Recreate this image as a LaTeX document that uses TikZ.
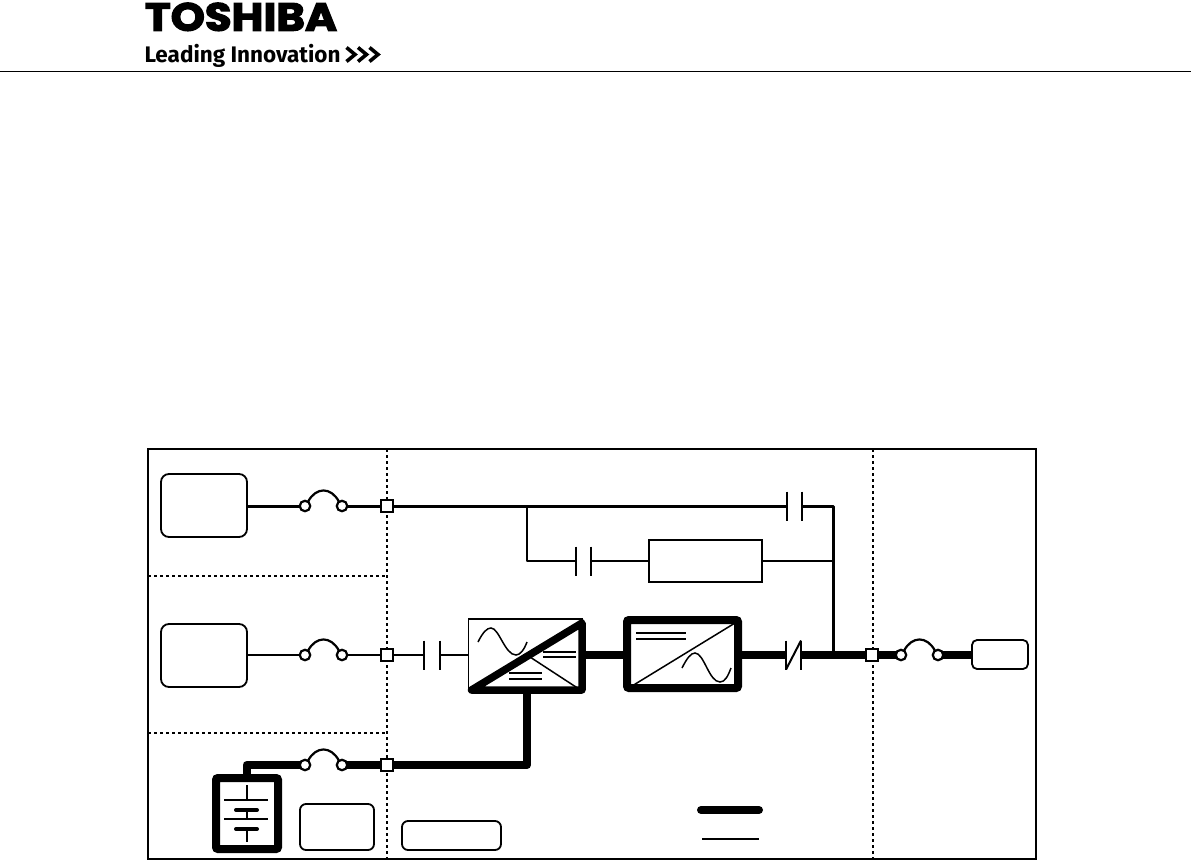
\documentclass[tikz,border=0pt]{standalone}
\usepackage{fontspec}
\setmainfont{Fira Sans}
\newfontfamily\logofont[FakeBold=3]{Poppins Bold}
\newfontfamily\tagfont{Fira Sans Bold}
\tikzset{
  thinline/.style={line width=2.4pt,line join=round},
  busline/.style={line width=3pt,line join=round},
  thickline/.style={line width=8pt,line join=round},
  plate/.style={line width=2pt},
  dashline/.style={line width=2pt,dash pattern=on 3pt off 3pt},
  tbox/.style={draw,fill=white,rounded corners=8pt,line width=1.8pt,inner sep=0pt,outer sep=0pt},
  rbox/.style={draw,fill=white,line width=2pt,inner sep=0pt,outer sep=0pt},
  clear/.style={inner sep=0pt,outer sep=0pt},
  joint/.style={draw,fill=white,line width=1.6pt,minimum size=12pt,inner sep=0pt,outer sep=0pt},
  contact/.style={draw,circle,fill=white,line width=2.2pt,minimum size=10.5pt,inner sep=0pt,outer sep=0pt},
  fusearc/.style={line width=2.2pt},
  wave/.style={line width=1.5pt},
  bar/.style={line width=1.4pt}
}
\newcommand{\fusecurve}[2]{\draw[fusearc] (#1.55) .. controls ([shift={(8pt,15pt)}]#1.55) and ([shift={(-8pt,15pt)}]#2.125) .. (#2.125);}
\begin{document}
\begin{tikzpicture}[x=1pt,y=-1pt]
\useasboundingbox (0,0) rectangle (1191,862);
\fill[white] (0,0) rectangle (1191,862);
% header
\node[clear,anchor=south west] (logoA) at (145,31) {\resizebox{192pt}{28pt}{\logofont TOSHIBA}};
\node[clear,anchor=base west] (logoB) at (144.5,62) {\resizebox{196pt}{!}{\tagfont Leading Innovation}};
\coordinate (hl) at (0,71.5); \coordinate (hr) at (1191,71.5);
\draw[line width=1.2pt] (hl) -- (hr);
\foreach \x in {346.5,358,369.5}
  \draw[line width=3.6pt,miter limit=10] (\x,47.5) -- (\x+8.5,54.5) -- (\x,61.5);
% frame
\node[rbox,fill=none,anchor=north west,minimum width=888pt,minimum height=410pt] (frame) at (148,449) {};
\coordinate (d1t) at (387,449); \coordinate (d1b) at (387,859);
\coordinate (d2t) at (873,449); \coordinate (d2b) at (873,859);
\coordinate (d3l) at (148,576); \coordinate (d3r) at (387,576);
\coordinate (d4l) at (148,733); \coordinate (d4r) at (387,733);
\draw[dashline] (d1t) -- (d1b);
\draw[dashline] (d2t) -- (d2b);
\draw[dashline] (d3l) -- (d3r);
\draw[dashline] (d4l) -- (d4r);
% sources
\node[tbox,anchor=north west,minimum width=86pt,minimum height=63pt] (srcA) at (161,474) {};
\node[tbox,anchor=north west,minimum width=86pt,minimum height=63pt] (srcB) at (161,624) {};
% fuses
\node[contact] (f1l) at (305,506) {}; \node[contact] (f1r) at (342,506) {};
\node[contact] (f2l) at (305,655) {}; \node[contact] (f2r) at (342,655) {};
\node[contact] (f3l) at (305,765) {}; \node[contact] (f3r) at (342,765) {};
\node[contact] (f4l) at (901,655) {}; \node[contact] (f4r) at (938,655) {};
\fusecurve{f1l}{f1r}\fusecurve{f2l}{f2r}\fusecurve{f3l}{f3r}\fusecurve{f4l}{f4r}
% joints
\node[joint] (j1) at (387,506) {};
\node[joint] (j2) at (387,655) {};
\node[joint] (j3) at (387,765) {};
\node[joint] (j4) at (872,655) {};
% contactors (plates as coordinates)
\coordinate (c1a) at (787,506); \coordinate (c1b) at (802,506);
\coordinate (c2a) at (576,561); \coordinate (c2b) at (591,561);
\coordinate (c3a) at (424,655); \coordinate (c3b) at (440,655);
\coordinate (c4a) at (786,655); \coordinate (c4b) at (801,655);
\foreach \n in {c1a,c1b,c2a,c2b,c3a,c3b,c4a,c4b}
  \draw[plate] ([yshift=14.5pt]\n) -- ([yshift=-14.5pt]\n);
\draw[plate] ([yshift=-14.5pt]c4a) -- ([yshift=14.5pt]c4b);
% bypass box
\node[rbox,anchor=north west,minimum width=113pt,minimum height=42pt] (byp) at (649,540) {};
% rectifier
\node[rbox,line width=1.5pt,anchor=north west,minimum width=113.5pt,minimum height=71pt] (rec) at (468.5,619) {};
\draw[wave] (478,642) .. controls (483,632) and (487,628) .. (491,628) .. controls (499,628) and (505,655) .. (516,655) .. controls (520,655) and (524,650) .. (527,642);
\foreach \y in {652,657} \draw[bar] (543,\y) -- (576,\y);
\foreach \y in {673,679} \draw[bar] (509,\y) -- (542,\y);
\draw[line width=1.5pt] (530,657) -- (579,689);
\draw[line width=7.5pt,line join=round] ([yshift=-4pt]rec.north east) -- (rec.south east) -- ([xshift=3pt]rec.south west) -- cycle;
% inverter
\node[draw,fill=white,line width=8pt,rounded corners=2pt,inner sep=0pt,outer sep=0pt,anchor=north west,minimum width=111pt,minimum height=68pt] (inv) at (627,620) {};
\draw[line width=1.5pt] (632,686) -- (735,623);
\foreach \y in {633,639} \draw[bar] (636,\y) -- (686,\y);
\draw[wave] (682,668) .. controls (687,658) and (691,653) .. (695,653) .. controls (704,653) and (709,682) .. (720,682) .. controls (725,682) and (728,676) .. (731,668);
% output box
\node[tbox,rounded corners=5pt,anchor=north west,minimum width=56pt,minimum height=29pt] (load) at (972,640) {};
% battery
\node[draw,fill=white,line width=8pt,rounded corners=2pt,inner sep=0pt,outer sep=0pt,anchor=north west,minimum width=62pt,minimum height=71pt] (batt) at (216,778) {};
\draw[bar] (247,785) -- (247,800);
\draw[bar] (224,800) -- (268,800);
\draw[line width=4pt,line cap=round] (236,810) -- (257,810);
\draw[bar] (247,810) -- (247,819);
\draw[bar] (224,819) -- (268,819);
\draw[line width=4pt,line cap=round] (236,829) -- (257,829);
\draw[bar] (247,829) -- (247,842);
% blank boxes
\node[tbox,rounded corners=6pt,anchor=north west,minimum width=74pt,minimum height=46pt] (boxC) at (300,804) {};
\node[tbox,rounded corners=6pt,anchor=north west,minimum width=99pt,minimum height=29pt] (boxD) at (402,821) {};
% thin connectors
\draw[busline] (srcA.east |- f1l) -- (f1l);
\draw[busline] (f1r) -- (j1);
\draw[busline] (j1) -- (c1a);
\draw[thinline] (srcB.east |- f2l) -- (f2l);
\draw[thinline] (f2r) -- (j2);
\draw[thinline] (j2) -- (c3a);
\draw[thinline] (c3b) -- (rec.west |- c3b);
\coordinate (busT) at (833,506);
\coordinate (busM) at (833,561);
\coordinate (busB) at (833,655);
\coordinate (tap) at (527,506);
\coordinate (tapB) at (527,561);
\draw[busline] (c1b) -- (busT) -- (busM) -- (busB);
\draw[thinline] (tap) -- (tapB) -- (c2a);
\draw[thinline] (c2b) -- (byp.west |- c2b);
\draw[thinline] (byp.east |- busM) -- (busM);
% thick connectors
\coordinate (linkY) at (600,654.5);
\draw[thickline] (rec.east |- linkY) -- (inv.west |- linkY);
\draw[thickline] (inv.east |- c4a) -- (c4a);
\draw[thickline] (c4b) -- (j4);
\draw[thickline] (j4) -- (f4l);
\draw[thickline] (f4r) -- (load.west |- f4r);
\coordinate (recIn) at (527,690);
\coordinate (batCor) at (527,765);
\coordinate (batUp) at (246.5,765);
\draw[thickline] (j3) -- (batCor) -- (recIn);
\draw[thickline] (f3r) -- (j3);
\draw[thickline] (f3l) -- (batUp) -- (batt.north -| batUp);
% legend
\coordinate (lgAl) at (701,810); \coordinate (lgAr) at (759,810);
\coordinate (lgBl) at (702,839); \coordinate (lgBr) at (759,839);
\draw[line width=8pt,line cap=round] (lgAl) -- (lgAr);
\draw[line width=2pt] (lgBl) -- (lgBr);
\end{tikzpicture}
\end{document}
